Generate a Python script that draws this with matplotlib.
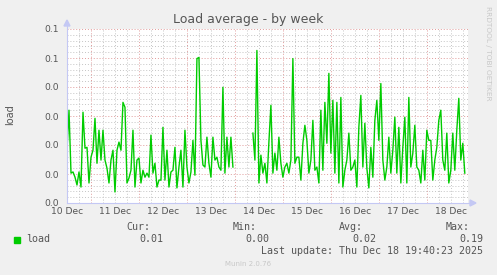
import numpy as np
import matplotlib.pyplot as plt
from matplotlib.patches import Polygon, Rectangle

# значения нагрузки, по одной точке в час начиная с 10 Dec 00:00
nan = np.nan
load = [
    0.0182, 0.0320, 0.0103, 0.0107, 0.0089, 0.0062, 0.0107, 0.0055, 0.0313, 0.0189,
    0.0192, 0.0069, 0.0158, 0.0182, 0.0292, 0.0137, 0.0251, 0.0148, 0.0251, 0.0148,
    0.0120, 0.0069, 0.0148, 0.0182, 0.0038, 0.0182, 0.0210, 0.0182, 0.0347, 0.0330,
    0.0069, 0.0086, 0.0113, 0.0251, 0.0055, 0.0148, 0.0155, 0.0069, 0.0113, 0.0089,
    0.0103, 0.0089, 0.0234, 0.0103, 0.0137, 0.0055, 0.0079, 0.0079, 0.0261, 0.0079,
    0.0182, 0.0055, 0.0107, 0.0113, 0.0192, 0.0052, 0.0124, 0.0182, 0.0055, 0.0251,
    0.0124, 0.0069, 0.0107, 0.0216, 0.0096, 0.0498, 0.0502, 0.0216, 0.0131, 0.0124,
    0.0227, 0.0137, 0.0089, 0.0227, 0.0148, 0.0158, 0.0124, 0.0113, 0.0399, 0.0103,
    0.0227, 0.0124, 0.0227, 0.0124, nan, nan, nan, nan, nan, nan,
    nan, nan, nan, 0.0241, 0.0148, 0.0526, 0.0069, 0.0165, 0.0103, 0.0137,
    0.0069, 0.0210, 0.0337, 0.0103, 0.0172, 0.0113, 0.0227, 0.0137, 0.0089, 0.0124,
    0.0137, 0.0103, 0.0148, 0.0498, 0.0137, 0.0158, 0.0158, 0.0079, 0.0206, 0.0268,
    0.0216, 0.0103, 0.0148, 0.0285, 0.0113, 0.0124, 0.0069, 0.0320, 0.0113, 0.0347,
    0.0206, 0.0447, 0.0172, 0.0354, 0.0103, 0.0347, 0.0069, 0.0364, 0.0055, 0.0113,
    0.0148, 0.0241, 0.0113, 0.0124, 0.0148, 0.0055, 0.0261, 0.0371, 0.0124, 0.0275,
    0.0120, 0.0052, 0.0192, 0.0089, 0.0285, 0.0354, 0.0216, 0.0412, 0.0148, 0.0079,
    0.0124, 0.0227, 0.0103, 0.0182, 0.0296, 0.0103, 0.0261, 0.0069, 0.0192, 0.0296,
    0.0069, 0.0364, 0.0124, 0.0172, 0.0268, 0.0124, 0.0113, 0.0069, 0.0182, 0.0079,
    0.0251, 0.0216, 0.0216, 0.0079, 0.0148, 0.0192, 0.0285, 0.0320, 0.0148, 0.0113,
    0.0241, 0.0069, 0.0113, 0.0241, 0.0113, 0.0251, 0.0361, 0.0148, 0.0206, 0.0103,
]
hours = np.arange(len(load))

day_labels = ['10 Dec', '11 Dec', '12 Dec', '13 Dec', '14 Dec',
              '15 Dec', '16 Dec', '17 Dec', '18 Dec']
y_ticks = [0.0, 0.01, 0.02, 0.03, 0.04, 0.05, 0.06]
y_labels = ['0.0', '0.0', '0.0', '0.0', '0.0', '0.1', '0.1']

stat_names = ['Cur:', 'Min:', 'Avg:', 'Max:']
stat_values = ['0.01', '0.00', '0.02', '0.19']

W, H = 497, 275
bg = '#f0f0f0'
txt = '#555555'
green = '#00cc00'
axis_col = '#c4c8f4'
minor_col = '#c4c4c4'
major_col = '#e09a9a'

def fx(px):
    return px / W

def fy(py):
    return 1 - py / H

fig = plt.figure(figsize=(W / 100, H / 100), dpi=100, facecolor=bg)
ax = fig.add_axes([fx(67), fy(203), 401 / W, 174 / H])
ax.set_facecolor('white')

ax.set_xlim(0, 200.6)
ax.set_ylim(0, 0.06)

# сетка: мелкая серая и крупная красная
for x in np.arange(6, 200, 6):
    if x % 24 == 12:
        continue
    ax.axvline(x, color=minor_col, lw=0.7, ls=(0, (1, 2)), zorder=1)
for x in np.arange(12, 200, 24):
    ax.axvline(x, color=major_col, lw=0.7, ls=(0, (1, 2)), zorder=1)
for y in np.arange(0.002, 0.0601, 0.002):
    if abs(y / 0.01 - round(y / 0.01)) < 1e-6:
        ax.axhline(y, color=major_col, lw=0.7, ls=(0, (1, 2)), zorder=1)
    else:
        ax.axhline(y, color=minor_col, lw=0.7, ls=(0, (1, 2)), zorder=1)

ax.plot(hours, load, color=green, lw=1.0, zorder=3)

for s in ax.spines.values():
    s.set_visible(False)

ax.set_xticks(np.arange(0, 200, 24))
ax.set_xticklabels(day_labels)
ax.set_yticks(y_ticks)
ax.set_yticklabels(y_labels)
ax.tick_params(length=0, colors=txt, labelsize=6.6)
ax.tick_params(axis='x', pad=3)
ax.tick_params(axis='y', pad=5.5)

# оси со стрелками
fig.add_artist(plt.Line2D([fx(67), fx(67)], [fy(203), fy(26)], color=axis_col, lw=0.8))
fig.add_artist(plt.Line2D([fx(67), fx(470)], [fy(203), fy(203)], color=axis_col, lw=0.8))
fig.add_artist(Polygon([[fx(64), fy(26)], [fx(70), fy(26)], [fx(67), fy(20)]],
                       closed=True, color=axis_col, transform=fig.transFigure))
fig.add_artist(Polygon([[fx(470), fy(200)], [fx(470), fy(206)], [fx(476), fy(203)]],
                       closed=True, color=axis_col, transform=fig.transFigure))

fig.text(fx(248), fy(19), 'Load average - by week', ha='center', va='center',
         fontsize=9, color=txt)
fig.text(fx(10), fy(115), 'load', rotation=90, ha='center', va='center',
         fontsize=7, color=txt)
fig.text(fx(488), fy(6), 'RRDTOOL / TOBI OETIKER', rotation=270, ha='center', va='top',
         fontsize=5.3, color='#c8c8c8')

# легенда
mono = 'DejaVu Sans Mono'
fig.add_artist(Rectangle((fx(14), fy(242.5)), 6 / W, 6 / H, color=green,
                         transform=fig.transFigure))
fig.text(fx(26), fy(239.5), 'load', ha='left', va='center', fontsize=7.2,
         family=mono, color=txt)
name_x = [150, 257, 363, 470]
val_x = [163, 269, 376, 483]
for nx, vx, name, val in zip(name_x, val_x, stat_names, stat_values):
    fig.text(fx(nx), fy(227.5), name, ha='right', va='center', fontsize=7.2,
             family=mono, color=txt)
    fig.text(fx(vx), fy(239.5), val, ha='right', va='center', fontsize=7.2,
             family=mono, color=txt)
fig.text(fx(483), fy(251.5), 'Last update: Thu Dec 18 19:40:23 2025', ha='right',
         va='center', fontsize=7.2, family=mono, color=txt)
fig.text(fx(248), fy(264), 'Munin 2.0.76', ha='center', va='center', fontsize=5,
         color='#c8c8c8')

fig.savefig('out.png', dpi=100, facecolor=bg)
